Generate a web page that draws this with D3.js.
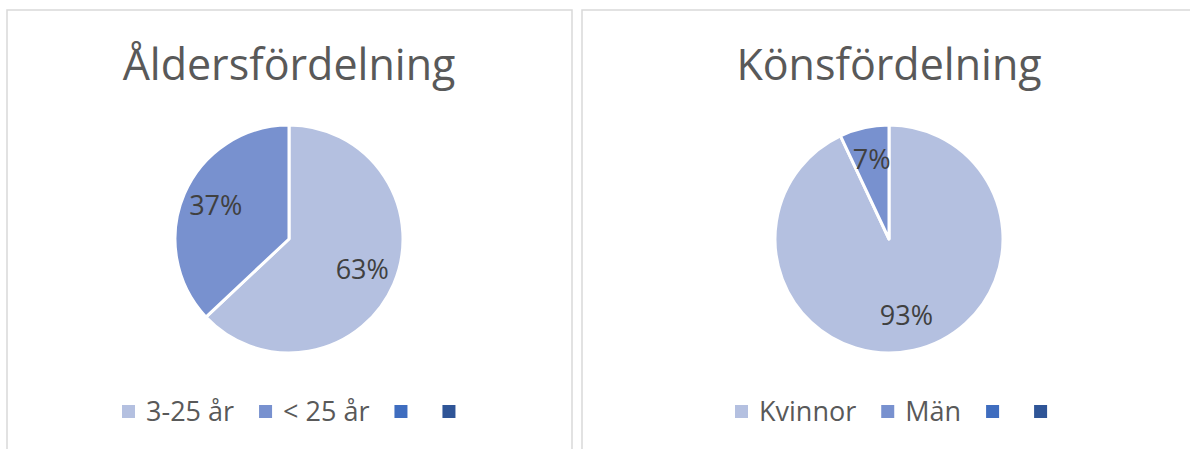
<!DOCTYPE html>
<html>
<head>
<meta charset="utf-8">
<script src="https://cdn.jsdelivr.net/npm/d3@7"></script>
<style>
  body { margin: 0; background: #fff; }
  svg { display: block; font-family: "Open Sans", "Noto Sans", sans-serif; }
</style>
</head>
<body>
<div id="chart"></div>
<script>
// Data
const ageTitle = "Åldersfördelning";
const ageLabels = ["3-25 år", "< 25 år", "", ""];
const ageValues = [63, 37];

const genderTitle = "Könsfördelning";
const genderLabels = ["Kvinnor", "Män", "", ""];
const genderValues = [93, 7];

const colors = ["#b4c0e0", "#7891cf", "#3f6dbf", "#2f5597"];

const W = 1190, H = 449;

const svg = d3.select("#chart").append("svg")
  .attr("width", W)
  .attr("height", H);

// one panel per pie
const panels = [
  { title: ageTitle, labels: ageLabels, values: ageValues, x: 7, w: 565, cx: 289, legendX: 122 },
  { title: genderTitle, labels: genderLabels, values: genderValues, x: 582, w: 640, cx: 889, legendX: 735 }
];

const radius = 114;
const cy = 239;

const pie = d3.pie().sort(null).value(d => d);
const arc = d3.arc().innerRadius(0).outerRadius(radius);
const labelArc = d3.arc().innerRadius(radius * 0.7).outerRadius(radius * 0.7);

panels.forEach(p => {
  // chart frame
  svg.append("rect")
    .attr("x", p.x)
    .attr("y", 10)
    .attr("width", p.w)
    .attr("height", 480)
    .attr("fill", "#fff")
    .attr("stroke", "#d9d9d9")
    .attr("stroke-width", 1.5);

  // title
  svg.append("text")
    .attr("x", p.cx)
    .attr("y", 80)
    .attr("text-anchor", "middle")
    .attr("fill", "#595959")
    .style("font-size", "43px")
    .text(p.title);

  const g = svg.append("g").attr("transform", `translate(${p.cx},${cy})`);
  const arcs = pie(p.values);

  g.selectAll("path")
    .data(arcs)
    .enter()
    .append("path")
    .attr("d", arc)
    .attr("fill", (d, i) => colors[i])
    .attr("stroke", "#fff")
    .attr("stroke-width", 3)
    .attr("stroke-linejoin", "round");

  g.selectAll(".lbl")
    .data(arcs)
    .enter()
    .append("text")
    .attr("class", "lbl")
    .attr("transform", d => `translate(${labelArc.centroid(d)})`)
    .attr("text-anchor", "middle")
    .attr("dy", "0.3em")
    .attr("fill", "#404040")
    .style("font-size", "27px")
    .text(d => d.data + "%");

  // legend
  const legend = svg.append("g").attr("transform", `translate(${p.legendX},405)`);
  let xPos = 0;
  p.labels.forEach((lab, i) => {
    legend.append("rect")
      .attr("x", xPos)
      .attr("y", 0)
      .attr("width", 13)
      .attr("height", 13)
      .attr("fill", colors[i]);
    const t = legend.append("text")
      .attr("x", xPos + 24)
      .attr("y", 16)
      .attr("fill", "#595959")
      .style("font-size", "27px")
      .text(lab);
    const tw = lab ? t.node().getComputedTextLength() : 0;
    xPos += 24 + tw + (lab ? 25 : 24);
  });
});
</script>
</body>
</html>
